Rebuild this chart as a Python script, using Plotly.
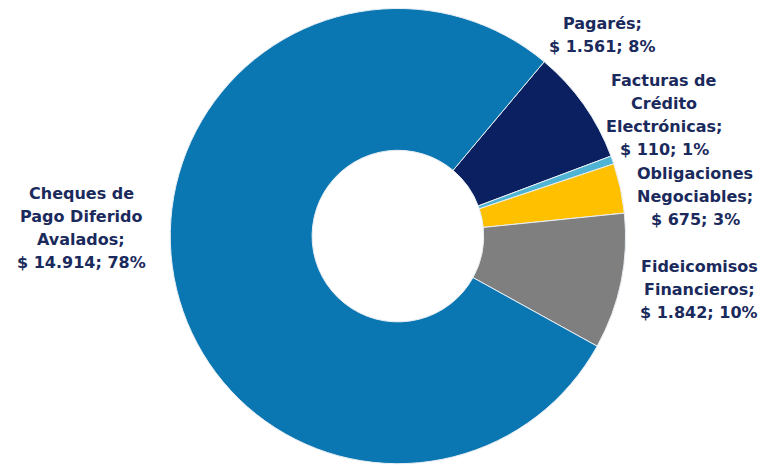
import plotly.graph_objects as go

# data (millions of $)
labels = ["Pagarés", "Facturas de Crédito Electrónicas", "Obligaciones Negociables",
          "Fideicomisos Financieros", "Cheques de Pago Diferido Avalados"]
values = [1561, 110, 675, 1842, 14914]
value_text = ["1.561", "110", "675", "1.842", "14.914"]
pct_text = ["8%", "1%", "3%", "10%", "78%"]
label_lines = [
    ["Pagarés;"],
    ["Facturas de", "Crédito", "Electrónicas;"],
    ["Obligaciones", "Negociables;"],
    ["Fideicomisos", "Financieros;"],
    ["Cheques de", "Pago Diferido", "Avalados;"],
]

COLORS = ["#0a2060", "#4fb4d4", "#ffc000", "#7f7f7f", "#0b77b2"]
TEXT_COLOR = "#1b2a5c"
W, H = 766, 465
PAD = 8          # page body margin pushes the figure down/right
LINE_H = 23      # px between label lines


def to_paper(px, py):
    return (px - PAD) / W, 1 - (py - PAD) / H


fig = go.Figure(go.Pie(
    labels=labels,
    values=values,
    hole=0.377,
    sort=False,
    direction="clockwise",
    rotation=40,
    marker=dict(colors=COLORS, line=dict(color="#e8eef3", width=1)),
    textinfo="none",
    showlegend=False,
    domain=dict(x=[0.21, 0.808], y=[0.02, 0.999]),
))

# label block centres in page pixels
label_px = [(602, 35), (664, 115), (695, 196), (699, 289), (81, 228)]
for lines, v, p, (px, py) in zip(label_lines, value_text, pct_text, label_px):
    all_lines = lines + [f"$ {v}; {p}"]
    top = py - LINE_H * (len(all_lines) - 1) / 2
    for i, line in enumerate(all_lines):
        x, y = to_paper(px, top + i * LINE_H)
        fig.add_annotation(
            x=x, y=y, xref="paper", yref="paper", text=line, showarrow=False,
            xanchor="center", yanchor="middle",
            font=dict(family="DejaVu Sans", size=16, color=TEXT_COLOR, weight="bold"),
        )

fig.update_layout(
    width=W, height=H,
    margin=dict(l=0, r=0, t=0, b=0),
    paper_bgcolor="white",
    plot_bgcolor="white",
)

fig.write_html("out.html")
